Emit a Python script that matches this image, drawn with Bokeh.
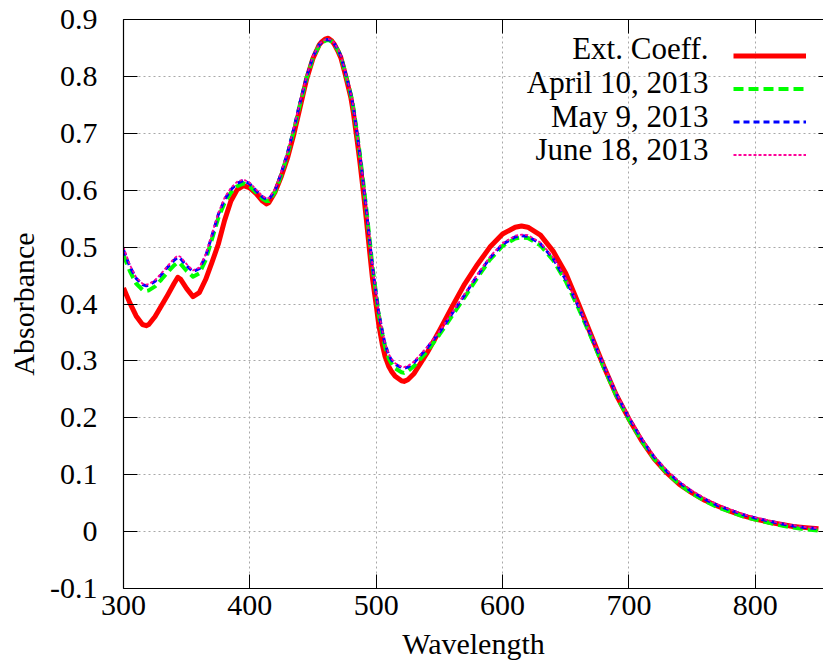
from bokeh.plotting import figure
from bokeh.models import (Range1d, LinearAxis, FixedTicker, Legend, LegendItem, Label)
from bokeh.embed import file_html
from bokeh.resources import INLINE

WL = [300,305,310,315,318,320,325,330,335,340,343,345,350,355,360,365,370,375,380,385,
      390,395,400,405,410,413,415,420,425,430,435,440,445,450,455,457,460,462,465,467,
      470,472,475,477,480,482,485,487,490,492,495,497,500,502,505,507,510,512,515,520,
      522,525,530,540,550,560,570,580,590,600,610,615,620,630,640,650,660,670,680,690,
      700,710,720,730,740,750,760,770,780,790,800,810,820,830,840,850]

EXT = [0.428,0.402,0.379,0.364,0.362,0.364,0.378,0.397,0.416,0.436,0.447,0.444,0.427,0.413,0.420,0.443,0.473,0.505,0.547,0.581,
       0.601,0.608,0.604,0.594,0.581,0.576,0.578,0.597,0.625,0.658,0.700,0.748,0.796,0.832,0.856,0.861,0.866,0.867,0.862,0.856,
       0.843,0.833,0.808,0.790,0.762,0.735,0.686,0.651,0.594,0.553,0.488,0.446,0.398,0.364,0.327,0.308,0.290,0.282,0.273,0.265,
       0.264,0.267,0.278,0.313,0.353,0.395,0.435,0.469,0.500,0.523,0.535,0.537,0.535,0.521,0.493,0.454,0.401,0.346,0.291,0.240,
       0.198,0.160,0.128,0.103,0.083,0.068,0.055,0.045,0.036,0.028,0.022,0.017,0.013,0.009,0.007,0.005]

APR = [0.486,0.458,0.436,0.425,0.423,0.424,0.431,0.443,0.456,0.468,0.473,0.471,0.458,0.448,0.454,0.477,0.514,0.551,0.578,0.596,
       0.607,0.612,0.607,0.596,0.585,0.581,0.581,0.597,0.628,0.664,0.707,0.754,0.798,0.833,0.855,0.859,0.863,0.864,0.861,0.856,
       0.845,0.835,0.811,0.794,0.767,0.744,0.698,0.664,0.609,0.571,0.509,0.466,0.417,0.382,0.346,0.325,0.304,0.296,0.287,0.280,
       0.279,0.282,0.291,0.316,0.346,0.379,0.412,0.446,0.478,0.502,0.515,0.517,0.516,0.503,0.477,0.440,0.393,0.342,0.289,0.239,
       0.197,0.160,0.128,0.103,0.083,0.067,0.054,0.043,0.035,0.027,0.021,0.016,0.011,0.007,0.004,0.002]

MAY = [0.495,0.466,0.445,0.434,0.432,0.433,0.440,0.452,0.465,0.477,0.482,0.480,0.467,0.457,0.462,0.484,0.520,0.557,0.584,0.601,
       0.612,0.617,0.611,0.599,0.588,0.584,0.584,0.600,0.631,0.667,0.710,0.757,0.800,0.835,0.856,0.860,0.864,0.865,0.862,0.857,
       0.846,0.836,0.812,0.795,0.768,0.745,0.698,0.664,0.608,0.570,0.508,0.466,0.418,0.385,0.350,0.330,0.310,0.302,0.294,0.288,
       0.287,0.289,0.297,0.322,0.350,0.383,0.416,0.450,0.481,0.505,0.518,0.520,0.519,0.506,0.480,0.443,0.396,0.345,0.292,0.242,
       0.200,0.163,0.131,0.106,0.086,0.070,0.057,0.046,0.038,0.030,0.024,0.019,0.014,0.010,0.007,0.005]

JUN = [0.500,0.469,0.447,0.436,0.434,0.435,0.442,0.454,0.467,0.480,0.485,0.483,0.470,0.459,0.464,0.487,0.523,0.560,0.587,0.604,
       0.615,0.619,0.613,0.601,0.590,0.586,0.586,0.602,0.633,0.669,0.712,0.758,0.801,0.836,0.857,0.861,0.865,0.866,0.863,0.858,
       0.847,0.837,0.813,0.796,0.769,0.746,0.700,0.666,0.610,0.572,0.510,0.468,0.420,0.387,0.352,0.332,0.312,0.304,0.296,0.290,
       0.289,0.291,0.299,0.324,0.352,0.385,0.418,0.452,0.483,0.507,0.520,0.522,0.521,0.508,0.482,0.445,0.398,0.347,0.294,0.244,
       0.202,0.165,0.133,0.108,0.088,0.072,0.059,0.048,0.039,0.031,0.025,0.020,0.015,0.011,0.008,0.006]

SERIES_NAMES = ["Ext. Coeff.", "April 10, 2013", "May 9, 2013", "June 18, 2013"]
X_TICKS = [300, 400, 500, 600, 700, 800]
Y_TICKS = [-0.1, 0, 0.1, 0.2, 0.3, 0.4, 0.5, 0.6, 0.7, 0.8, 0.9]
Y_TICK_LABELS = ["-0.1", "0", "0.1", "0.2", "0.3", "0.4", "0.5", "0.6", "0.7", "0.8", "0.9"]

FONT = "Liberation Serif"
FS = "30px"
LFS = "31px"

p = figure(width=823, height=665, x_range=Range1d(300, 854), y_range=Range1d(-0.1, 0.9),
           output_backend="svg", toolbar_location=None,
           min_border_left=123, min_border_right=0, min_border_top=19, min_border_bottom=77,
           x_axis_label="Wavelength", y_axis_label="Absorbance")
p.outline_line_color = None
p.background_fill_color = "white"
p.border_fill_color = "white"

for ax in (p.xaxis[0], p.yaxis[0]):
    ax.major_tick_in = 14
    ax.major_tick_out = 0
    ax.minor_tick_in = 0
    ax.minor_tick_out = 0
    ax.axis_line_color = "black"
    ax.axis_line_width = 1.2
    ax.major_tick_line_color = "black"
    ax.major_label_text_font = FONT
    ax.major_label_text_font_size = FS
    ax.major_label_text_color = "black"
    ax.axis_label_text_font = FONT
    ax.axis_label_text_font_size = FS
    ax.axis_label_text_font_style = "normal"
    ax.axis_label_text_color = "black"

p.xaxis[0].ticker = FixedTicker(ticks=X_TICKS)
p.yaxis[0].ticker = FixedTicker(ticks=Y_TICKS)
p.yaxis[0].major_label_overrides = {t: l for t, l in zip(Y_TICKS, Y_TICK_LABELS)}
p.xaxis[0].major_label_standoff = 7
p.xaxis[0].axis_label_standoff = 9
p.yaxis[0].major_label_standoff = 26
p.yaxis[0].axis_label_standoff = 7

top = LinearAxis(ticker=FixedTicker(ticks=X_TICKS), major_tick_in=14, major_tick_out=0,
                 minor_tick_in=0, minor_tick_out=0, major_label_text_font_size="0px",
                 major_label_text_color=None, major_label_standoff=0, axis_line_color="black",
                 axis_line_width=1.2)
p.add_layout(top, "above")
right = LinearAxis(ticker=FixedTicker(ticks=Y_TICKS), major_tick_in=5, major_tick_out=0,
                   minor_tick_in=0, minor_tick_out=0, major_label_text_font_size="0px",
                   major_label_text_color=None, major_label_standoff=0, axis_line_color=None)
p.add_layout(right, "right")

p.xgrid.ticker = FixedTicker(ticks=X_TICKS)
p.ygrid.ticker = FixedTicker(ticks=Y_TICKS)
for g in (p.xgrid[0], p.ygrid[0]):
    g.grid_line_color = "#a8a8a8"
    g.grid_line_dash = "2 3"
    g.grid_line_width = 1

r1 = p.line(WL, EXT, line_color="#ff0000", line_width=5, line_join="round")
r2 = p.line(WL, APR, line_color="#00ff00", line_width=4, line_dash="10 5", line_join="round")
r3 = p.line(WL, MAY, line_color="#0000ff", line_width=3, line_dash="6 4", line_join="round")
r4 = p.line(WL, JUN, line_color="#ff0099", line_width=1.8, line_dash="3 2", line_join="round")

legend = Legend(items=[LegendItem(label=" ", renderers=[r]) for r in (r1, r2, r3, r4)],
                location=(610, 417), glyph_width=73, glyph_height=33, label_height=33,
                label_width=0, label_standoff=0, spacing=-1, padding=0, margin=0,
                label_text_font_size="1px", label_text_color=None, border_line_color=None,
                background_fill_alpha=0)
p.add_layout(legend, "center")

baselines = [540, 506.3, 472.3, 439]
for name, yb in zip(SERIES_NAMES, baselines):
    p.add_layout(Label(x=585, y=yb, x_units="screen", y_units="screen", text=name,
                       text_align="right", text_baseline="alphabetic",
                       text_font=FONT, text_font_size=LFS, text_color="black"))

open("out.html", "w").write(file_html(p, INLINE))
